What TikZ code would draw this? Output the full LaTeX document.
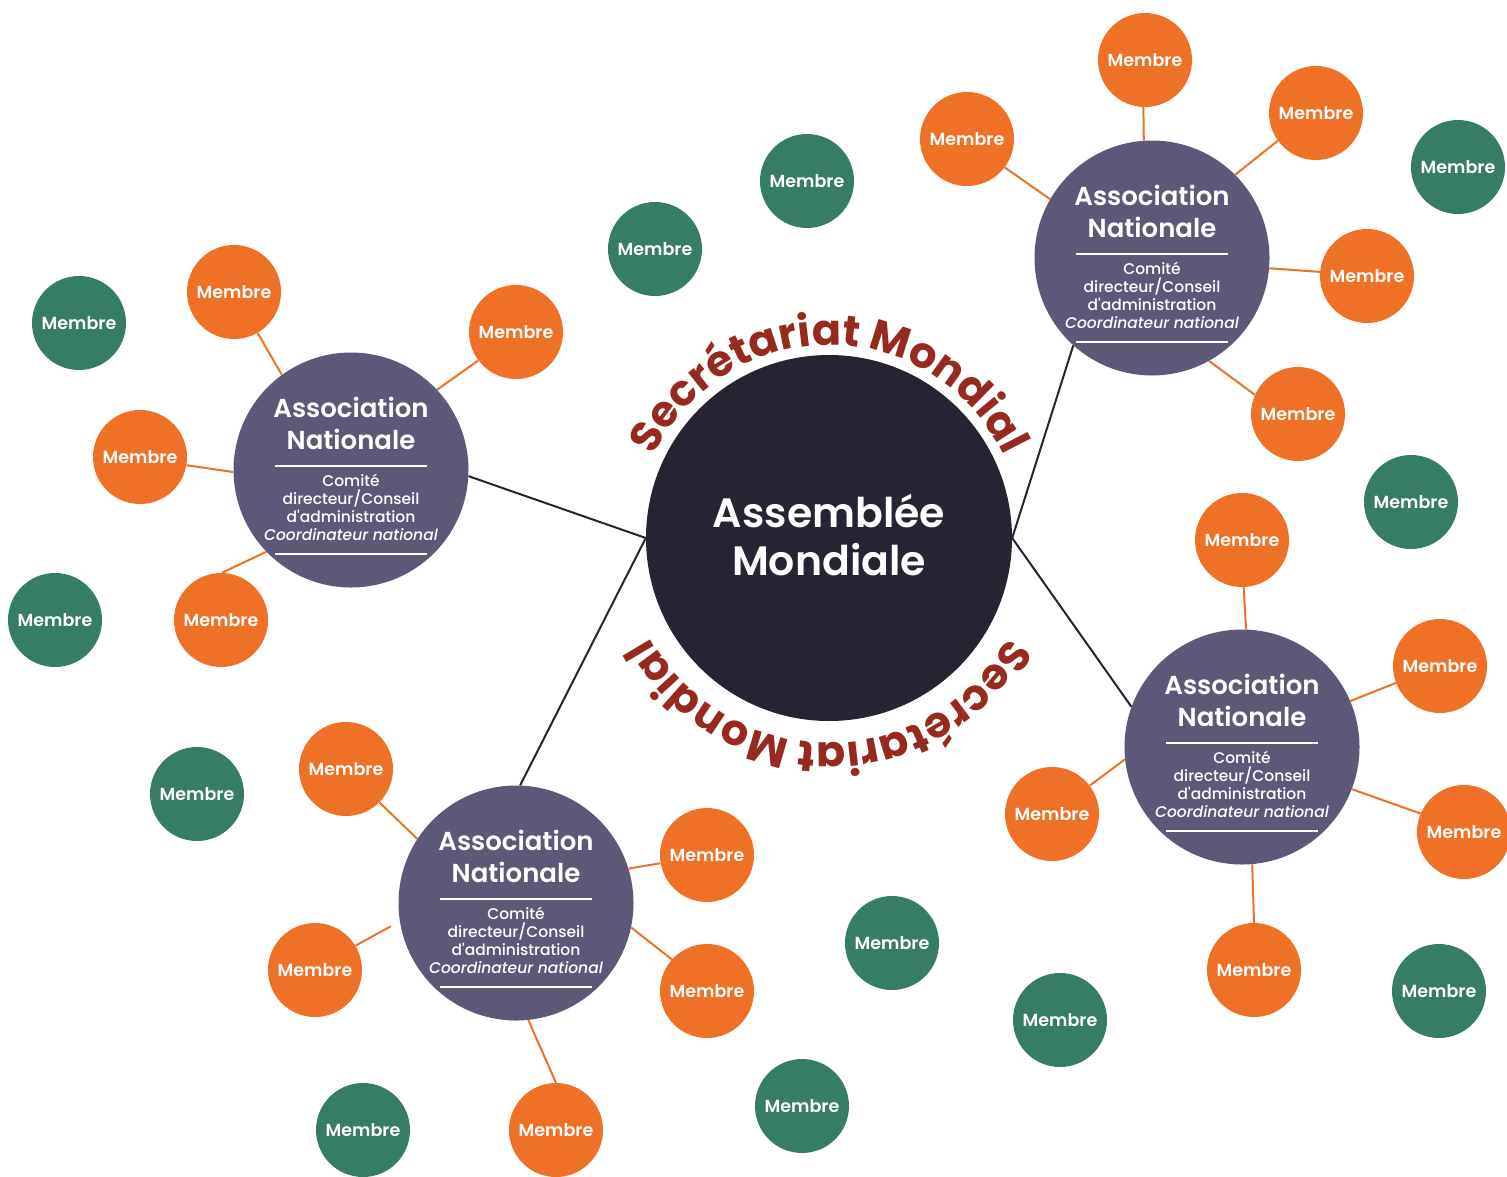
\documentclass[tikz,border=0pt]{standalone}
\usepackage{fontspec}
\setmainfont{Poppins}[UprightFont={* Medium}, BoldFont={* SemiBold}, ItalicFont={* Medium Italic}, BoldItalicFont={* SemiBold Italic}]
\newfontfamily\arcfont{Poppins Bold}
\usetikzlibrary{decorations.text}

\definecolor{fondnoir}{HTML}{262432}
\definecolor{assocviolet}{HTML}{5E5878}
\definecolor{membreorange}{HTML}{EE7127}
\definecolor{membrevert}{HTML}{367D66}
\definecolor{secrouge}{HTML}{962A1E}

\begin{document}
\begin{tikzpicture}[x=1pt, y=1pt,
    assemblee/.style={circle, fill=fondnoir, minimum size=366pt, inner sep=0pt},
    grand/.style={text=white, align=center, inner sep=0pt, font=\bfseries\fontsize{41}{48}\selectfont},
    assoc/.style={circle, fill=assocviolet, minimum size=235pt, inner sep=0pt},
    titre/.style={text=white, align=center, inner sep=0pt, font=\bfseries\fontsize{26}{32}\selectfont},
    detail/.style={text=white, align=center, inner sep=0pt, font=\fontsize{15.5}{18}\selectfont},
    filet/.style={white, line width=2pt},
    membre/.style={circle, fill=membreorange, minimum size=94pt, inner sep=0pt, text=white, font=\bfseries\fontsize{17.5}{20}\selectfont},
    libre/.style={membre, fill=membrevert},
    lien/.style={membreorange, line width=2pt},
    axe/.style={fondnoir, line width=2pt}]

    % page
    \fill[white] (0,0) rectangle (1507,-1176);
    \useasboundingbox (0,0) rectangle (1507,-1176);

    % Assemblee Mondiale
    \node[assemblee] (main) at (829,-538) {};
    \node[grand] (main-texte) at (829,-535) {Assembl\'ee\\Mondiale};

    % Secretariat Mondial, top and bottom
    \path[decorate, decoration={text along path, text align=center,
        text={|\arcfont\fontsize{43}{43}\selectfont\color{secrouge}|Secrétariat Mondial}}]
        (829,-538) ++(180:193) arc[start angle=180, end angle=0, radius=193];
    \path[decorate, decoration={text along path, text align=center,
        text={|\arcfont\fontsize{43}{43}\selectfont\color{secrouge}|Secrétariat Mondial}}]
        (829,-538) ++(0:205) arc[start angle=0, end angle=-180, radius=205];

    % Associations nationales
    \foreach \n/\x/\y in {a1/1152/258, a2/351/470, a3/516/903, a4/1242/747} {
        \node[assoc] (\n) at (\x,-\y) {};
        \node[titre] (\n-titre) at (\x,-\y+47) {Association\\Nationale};
        \node[detail] (\n-detail) at (\x,-\y-37) {Comité\\directeur/Conseil\\d\textquotesingle administration\\\textit{Coordinateur national}};
        \draw[filet] (\x-76,-\y+4) -- (\x+76,-\y+4);
        \draw[filet] (\x-76,-\y-84) -- (\x+76,-\y-84);
    }

    % Membres rattaches
    \foreach \n/\x/\y in {m1/1145/60, m2/967/139, m3/1316/113, m4/1367/276, m5/1298/414,
                          m6/234/292, m7/516/332, m8/140/457, m9/221/620,
                          m10/346/769, m11/707/855, m12/315/970, m13/707/991, m14/556/1130,
                          m15/1242/540, m16/1440/666, m17/1052/814, m18/1464/832, m19/1254/970} {
        \node[membre] (\n) at (\x,-\y) {Membre};
    }

    % Membres libres
    \foreach \n/\x/\y in {g1/807/181, g2/655/249, g3/1458/167, g4/79/323, g5/1411/502, g6/55/620,
                          g7/197/794, g8/892/943, g9/1060/1020, g10/1439/991, g11/802/1106, g12/363/1130} {
        \node[libre] (\n) at (\x,-\y) {Membre};
    }

    % Liens assemblee -- associations
    \draw[axe] (main.180) -- (a2.357);
    \draw[axe] (main.180) -- (a3.88);
    \draw[axe] (main.0) -- (a1.228);
    \draw[axe] (main.0) -- (a4.160);

    % Liens membres -- associations
    \foreach \m/\am/\g/\ag in {m1/268/a1/94, m2/323/a1/150, m3/216/a1/45, m4/175/a1/355, m5/156/a1/299,
                               m6/300/a2/126, m7/217/a2/43, m8/350/a2/181, m9/89/a2/224,
                               m10/315/a3/147, m11/190/a3/17, m13/138/a3/348, m14/90/a3/276,
                               m15/272/a4/88, m16/201/a4/23, m17/37/a4/186, m18/157/a4/339, m19/90/a4/275} {
        \draw[lien] (\m.\am) -- (\g.\ag);
    }
    \draw[lien, shorten >=10pt] (m12.31) -- (a3.189);

\end{tikzpicture}
\end{document}
